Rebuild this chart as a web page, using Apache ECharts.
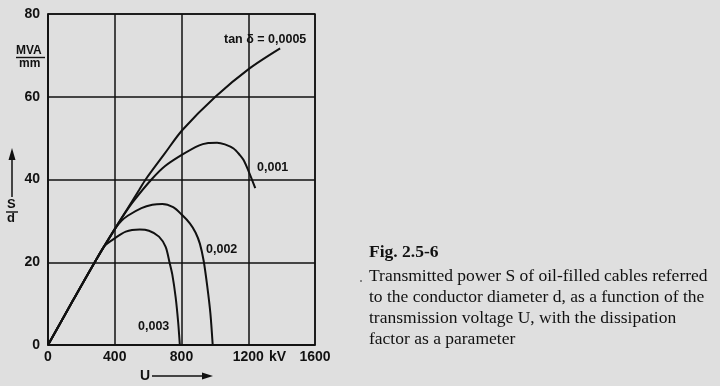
<!DOCTYPE html>
<html><head><meta charset="utf-8">
<script src="https://cdn.jsdelivr.net/npm/echarts@6/dist/echarts.min.js"></script>
<style>html,body{margin:0;padding:0;background:#dfdfdf;}#c{width:720px;height:386px;}</style>
</head><body><div id="c"></div>
<script>
// Data (U in kV, S/d in MVA/mm)
const xTicks = ['0','400','800','1200','1600'];
const yTicks = ['0','20','40','60','80'];
const seriesNames = ['tan δ = 0,0005','0,001','0,002','0,003'];
const u0005 = [0,150,287,400,545,585,700,804,1003,1206,1391];
const s0005 = [0,10.8,20.5,28,37.4,40,46.3,51.9,60,66.8,71.7];
const u001 = [0,150,287,400,460,515,620,700,804,903,960,1013,1060,1112,1150,1172,1200,1242];
const s001 = [0,10.8,20.5,28,31.8,34.9,40,43.2,46,48.2,48.8,48.9,48.5,47.5,45.9,44.7,42.2,37.9];
const u002 = [0,150,287,400,440,480,560,625,685,750,804,850,884,910,933,955,973,987];
const s002 = [0,10.8,20.5,28,30,31.3,33.1,33.9,34.1,33.3,31.4,29.4,27.2,24.5,20.3,14,7.7,0];
const u003 = [0,150,287,340,386,466,550,605,665,705,728,745,765,780,790];
const s003 = [0,10.8,20.5,24,25.4,27.4,27.9,27.6,26.2,23.7,20,17,11.5,5.5,0];
const captionTitle = 'Fig. 2.5-6';
const captionLines = [
  'Transmitted power S of oil-filled cables referred',
  'to the conductor diameter d, as a function of the',
  'transmission voltage U, with the dissipation',
  'factor as a parameter'
];

const pairs = (u, s) => u.map((v, i) => [v, s[i]]);
const ink = '#111';
const sans = 'Liberation Sans, Arial, sans-serif';
const tickFont = {fontFamily: sans, fontSize: 14, fontWeight: 'bold', color: ink};

const chart = echarts.init(document.getElementById('c'), null, {renderer: 'canvas'});
const lineSeries = [[u0005,s0005],[u001,s001],[u002,s002],[u003,s003]].map((d, i) => ({
  name: seriesNames[i], type: 'line', data: pairs(d[0], d[1]),
  smooth: 0.3, showSymbol: false, symbol: 'none',
  lineStyle: {color: ink, width: 2}, silent: true, animation: false
}));

const graphics = [
  {type:'text', left: 224, top: 33, style:{text: seriesNames[0], font:'bold 12.5px ' + sans, fill: ink}},
  {type:'text', left: 257, top: 161, style:{text: seriesNames[1], font:'bold 12.5px ' + sans, fill: ink}},
  {type:'text', left: 206, top: 243, style:{text: seriesNames[2], font:'bold 12.5px ' + sans, fill: ink}},
  {type:'text', left: 138, top: 320, style:{text: seriesNames[3], font:'bold 12.5px ' + sans, fill: ink}},
  {type:'text', left: 269, top: 350, style:{text: 'kV', font:'bold 14px ' + sans, fill: ink}},
  {type:'text', left: 140, top: 369, style:{text: 'U', font:'bold 14px ' + sans, fill: ink}},
  {type:'line', shape:{x1:152, y1:376, x2:205, y2:376}, style:{stroke: ink, lineWidth: 1.5}},
  {type:'polygon', shape:{points:[[213,376],[202,372.5],[202,379.5]]}, style:{fill: ink}},
  {type:'text', left: 16, top: 45, style:{text: 'MVA', font:'bold 12px ' + sans, fill: ink}},
  {type:'line', shape:{x1:16, y1:57.5, x2:45, y2:57.5}, style:{stroke: ink, lineWidth: 1.4}},
  {type:'text', left: 19, top: 58, style:{text: 'mm', font:'bold 12px ' + sans, fill: ink}},
  {type:'line', shape:{x1:12, y1:158, x2:12, y2:197}, style:{stroke: ink, lineWidth: 1.5}},
  {type:'polygon', shape:{points:[[12,148],[8.5,160],[15.5,160]]}, style:{fill: ink}},
  {type:'text', left: 7, top: 198, style:{text: 'S', font:'bold 13px ' + sans, fill: ink}},
  {type:'line', shape:{x1:6, y1:212, x2:18, y2:212}, style:{stroke: ink, lineWidth: 1.4}},
  {type:'text', left: 7, top: 212, style:{text: 'd', font:'bold 13px ' + sans, fill: ink}},
  {type:'text', left: 369, top: 243, style:{text: captionTitle, font:'bold 17.5px Liberation Serif, Times New Roman, serif', fill: ink}}
];
captionLines.forEach((t, i) => graphics.push({type:'text', left: 369, top: 267 + i*21.3,
  style:{text: t, font:'17.5px Liberation Serif, Times New Roman, serif', fill: ink}}));
graphics.push({type:'circle', shape:{cx:361, cy:281, r:0.8}, style:{fill: ink}});

chart.setOption({
  backgroundColor: '#dfdfdf',
  animation: false,
  grid: {left: 48, right: 405, top: 14, bottom: 41, show: true, borderColor: ink, borderWidth: 1.5, backgroundColor: 'transparent'},
  xAxis: {type: 'value', min: 0, max: 1600, interval: 400,
    axisLine: {show: true, lineStyle: {color: ink, width: 1.5}}, axisTick: {show: false},
    splitLine: {show: true, lineStyle: {color: ink, width: 1.5}},
    axisLabel: Object.assign({margin: 5, formatter: v => xTicks[xTicks.indexOf(String(v))] || ''}, tickFont)},
  yAxis: {type: 'value', min: 0, max: 80, interval: 20,
    axisLine: {show: true, lineStyle: {color: ink, width: 1.5}}, axisTick: {show: false},
    splitLine: {show: true, lineStyle: {color: ink, width: 1.5}},
    axisLabel: Object.assign({margin: 8, formatter: v => yTicks[yTicks.indexOf(String(v))] || ''}, tickFont)},
  series: lineSeries,
  graphic: graphics
});
</script></body></html>
